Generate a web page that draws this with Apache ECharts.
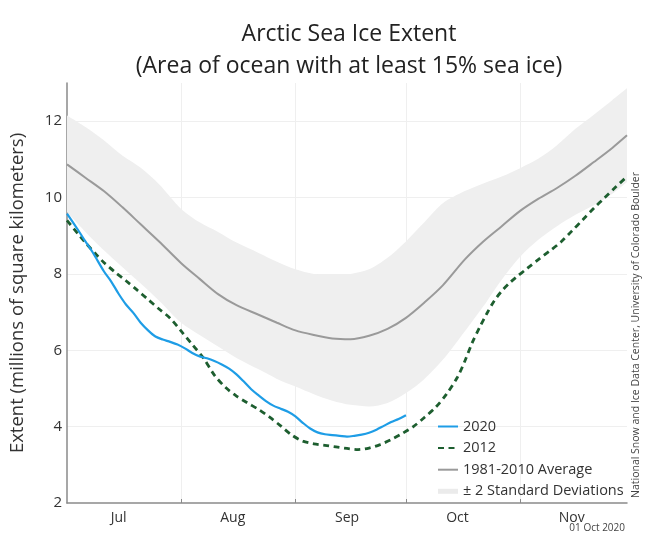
<!DOCTYPE html>
<html>
<head>
<meta charset="utf-8">
<script src="https://cdn.jsdelivr.net/npm/echarts@6/dist/echarts.min.js"></script>
<style>
html,body{margin:0;padding:0;background:#fff;}
#chart{width:664px;height:543px;}
</style>
</head>
<body>
<div id="chart"></div>
<script>
// ---- axis categories (Jul 1 .. Nov 30) ----
const monthNames = ['Jul', 'Aug', 'Sep', 'Oct', 'Nov'];
const monthNums = ['07', '08', '09', '10', '11'];
const monthLengths = [31, 31, 30, 31, 30];
const yTicks = [2, 4, 6, 8, 10, 12];

// ---- 1981-2010 average and ±2 SD band (sample dates) ----
const bandDates = ['07-01','07-06','07-11','07-16','07-21','07-26','08-01','08-06','08-11','08-16','08-22','08-27',
  '09-01','09-06','09-11','09-16','09-21','09-26','10-01','10-06','10-11','10-17','10-22','10-27',
  '11-01','11-06','11-11','11-16','11-21','11-26','11-30'];
const avgValues = [10.87,10.52,10.17,9.75,9.30,8.85,8.28,7.87,7.47,7.18,6.93,6.72,
  6.52,6.40,6.31,6.29,6.38,6.56,6.85,7.25,7.70,8.38,8.85,9.25,
  9.65,9.97,10.25,10.57,10.93,11.30,11.63];
const upperValues = [12.15,11.85,11.50,11.10,10.78,10.35,9.70,9.35,9.10,8.82,8.55,8.32,
  8.12,8.00,7.97,8.00,8.12,8.42,8.85,9.35,9.85,10.17,10.37,10.55,
  10.77,11.02,11.37,11.80,12.17,12.55,12.86];
const lowerValues = [9.62,9.10,8.62,8.18,7.75,7.30,6.72,6.40,6.10,5.80,5.50,5.25,
  5.05,4.85,4.68,4.57,4.53,4.62,4.88,5.25,5.75,6.50,7.15,7.85,
  8.45,8.90,9.25,9.55,9.80,10.10,10.41];

// ---- 2020 ----
const dates2020 = ['07-01','07-04','07-06','07-08','07-11','07-13','07-15','07-17','07-19','07-21','07-23','07-25',
  '07-27','07-29','07-31','08-02','08-04','08-06','08-08','08-10','08-12','08-14','08-16','08-18','08-20','08-22',
  '08-24','08-26','08-28','08-30','09-01','09-03','09-05','09-07','09-09','09-11','09-13','09-15','09-17','09-19',
  '09-21','09-23','09-25','09-27','09-29','10-01'];
const values2020 = [9.58,9.15,8.85,8.56,8.07,7.80,7.48,7.20,6.98,6.72,6.52,6.36,
  6.28,6.22,6.15,6.05,5.93,5.84,5.79,5.72,5.63,5.52,5.37,5.18,4.98,4.82,
  4.67,4.55,4.47,4.39,4.27,4.10,3.95,3.85,3.80,3.78,3.76,3.74,3.76,3.79,
  3.84,3.92,4.02,4.12,4.20,4.30];

// ---- 2012 ----
const dates2012 = ['07-01','07-04','07-06','07-09','07-11','07-14','07-17','07-20','07-23','07-26','07-29','08-01',
  '08-04','08-07','08-10','08-13','08-16','08-19','08-22','08-25','08-28','08-31','09-03','09-06','09-09','09-12',
  '09-15','09-18','09-21','09-24','09-27','09-30','10-03','10-06','10-09','10-12','10-15','10-17','10-19','10-21',
  '10-23','10-25','10-27','10-29','10-31','11-03','11-06','11-09','11-12','11-15','11-18','11-21','11-24','11-27','11-30'];
const values2012 = [9.40,9.05,8.82,8.50,8.30,8.05,7.82,7.58,7.33,7.08,6.84,6.50,
  6.15,5.80,5.35,5.03,4.80,4.62,4.45,4.25,4.02,3.78,3.62,3.55,3.51,3.47,
  3.43,3.40,3.44,3.53,3.66,3.82,4.00,4.24,4.50,4.85,5.30,5.72,6.20,6.60,
  6.97,7.30,7.55,7.75,7.92,8.15,8.38,8.60,8.83,9.12,9.42,9.72,10.00,10.28,10.55];

// ---- build options ----
const categories = [];
monthNums.forEach(function (m, i) {
  for (let d = 1; d <= monthLengths[i]; d++) categories.push(m + '-' + (d < 10 ? '0' + d : '' + d));
});
const pairs = (ds, vs) => ds.map((d, i) => [d, vs[i]]);
const bandDiff = upperValues.map((v, i) => +(v - lowerValues[i]).toFixed(3));
const font = "'Open Sans', 'Noto Sans', sans-serif";
const isMonthStart = (idx, val) => idx > 0 && /-01$/.test(val);

const chart = echarts.init(document.getElementById('chart'), null, { renderer: 'canvas' });
chart.setOption({
  animation: false,
  backgroundColor: '#ffffff',
  textStyle: { fontFamily: font },
  title: {
    text: 'Arctic Sea Ice Extent\n(Area of ocean with at least 15% sea ice)',
    left: 349, top: 18, padding: 0, textAlign: 'center',
    textStyle: { fontFamily: font, fontSize: 23, fontWeight: 'normal', color: '#222', lineHeight: 32 }
  },
  grid: { left: 66, right: 37, top: 83, bottom: 40, containLabel: false },
  legend: {
    orient: 'vertical', left: 437, top: 419, padding: 0, itemWidth: 20, itemHeight: 14, itemGap: 6.6,
    itemStyle: { opacity: 0 },
    textStyle: { fontFamily: font, fontSize: 14.5, color: '#333' },
    data: [
      { name: '2020' },
      { name: '2012' },
      { name: '1981-2010 Average' },
      { name: '± 2 Standard Deviations', icon: 'path://M0,0L20,0L20,5L0,5Z', itemStyle: { color: '#ebebeb', opacity: 1 } }
    ]
  },
  xAxis: {
    type: 'category', data: categories, boundaryGap: false,
    axisLine: { lineStyle: { color: '#8a8a8a', width: 1.5 } },
    axisTick: { show: true, inside: true, length: 4, interval: isMonthStart, lineStyle: { color: '#8a8a8a' } },
    splitLine: { show: true, interval: isMonthStart, lineStyle: { color: '#efefef', width: 1 } },
    axisLabel: {
      interval: (idx, val) => /-15$/.test(val), margin: 8,
      formatter: (val) => monthNames[monthNums.indexOf(val.slice(0, 2))],
      fontFamily: font, fontSize: 14, color: '#333'
    }
  },
  yAxis: {
    type: 'value', min: 2, max: 13, interval: 2,
    name: 'Extent (millions of square kilometers)', nameLocation: 'middle', nameGap: 40,
    nameTextStyle: { fontFamily: font, fontSize: 18.5, color: '#333' },
    axisLine: { show: true, lineStyle: { color: '#8a8a8a', width: 1.5 } },
    axisTick: { show: false },
    splitLine: { show: true, showMaxLine: false, showMinLine: false, lineStyle: { color: '#efefef', width: 1 } },
    axisLabel: {
      showMaxLabel: false, margin: 5, fontFamily: font, fontSize: 15, color: '#333',
      formatter: (v) => (yTicks.indexOf(v) >= 0 ? String(v) : '')
    }
  },
  graphic: [
    {
      type: 'text', x: 636, y: 335, rotation: Math.PI / 2,
      style: { text: 'National Snow and Ice Data Center, University of Colorado Boulder',
        fontFamily: font, fontSize: 10.5, fill: '#444', align: 'center', verticalAlign: 'middle' }
    },
    {
      type: 'text', x: 625, y: 528,
      style: { text: '01 Oct 2020', fontFamily: font, fontSize: 10, fill: '#444', align: 'right', verticalAlign: 'middle' }
    }
  ],
  series: [
    {
      name: 'band-lower', type: 'line', stack: 'band', data: pairs(bandDates, lowerValues),
      smooth: 0.3, symbol: 'none', lineStyle: { opacity: 0 }, silent: true, z: 1
    },
    {
      name: '± 2 Standard Deviations', type: 'line', stack: 'band', data: pairs(bandDates, bandDiff),
      smooth: 0.3, symbol: 'none', lineStyle: { opacity: 0 }, areaStyle: { color: '#efefef', opacity: 1 },
      itemStyle: { color: '#ebebeb' }, silent: true, z: 1
    },
    {
      name: '1981-2010 Average', type: 'line', data: pairs(bandDates, avgValues),
      smooth: 0.3, symbol: 'none', lineStyle: { color: '#9a9a9a', width: 2 }, itemStyle: { color: '#9a9a9a' }, z: 2
    },
    {
      name: '2012', type: 'line', data: pairs(dates2012, values2012),
      smooth: 0.3, symbol: 'none', lineStyle: { color: '#1d5e2f', width: 2.8, type: [6, 4.5] }, itemStyle: { color: '#1d5e2f' }, z: 3
    },
    {
      name: '2020', type: 'line', data: pairs(dates2020, values2020),
      smooth: 0.3, symbol: 'none', lineStyle: { color: '#1e9de6', width: 2.2 }, itemStyle: { color: '#1e9de6' }, z: 4
    }
  ]
});
</script>
</body>
</html>
